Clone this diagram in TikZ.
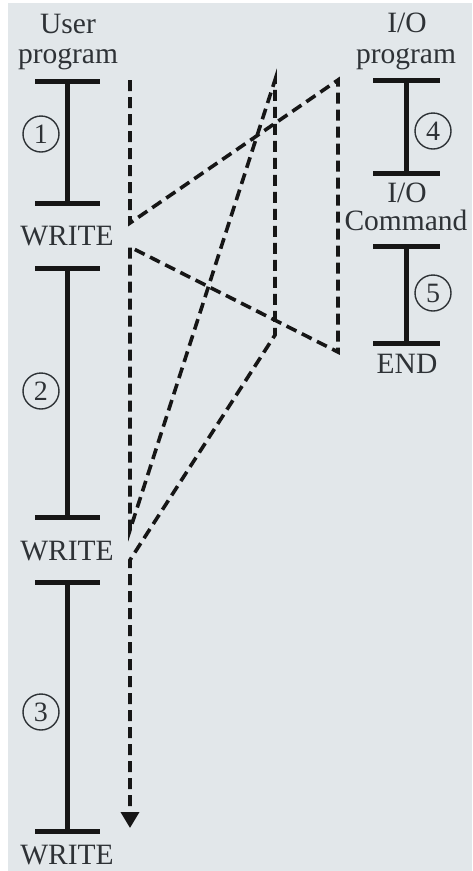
\documentclass[tikz,border=0pt]{standalone}
\usepackage{fontspec}
\setmainfont{Liberation Serif}
\usetikzlibrary{arrows.meta}
\definecolor{panel}{RGB}{226,231,234}
\definecolor{ink}{RGB}{22,22,22}
\definecolor{textink}{RGB}{46,50,54}
\tikzset{
  lbl/.style={anchor=base, inner sep=0pt, text=textink, font=\fontsize{29.5}{32}\selectfont},
  bar/.style={draw=ink, line width=5pt},
  num/.style={circle, draw=textink, line width=1.4pt, minimum size=36pt, inner sep=0pt,
              text=textink, font=\fontsize{28}{28}\selectfont},
  flow/.style={draw=ink, line width=3.6pt, dash pattern=on 11pt off 6pt, line join=miter},
}
\begin{document}
\begin{tikzpicture}[x=1pt, y=-1pt]
  % page and panel
  \useasboundingbox (0,0) rectangle (472,871);
  \fill[white] (0,0) rectangle (472,871);
  \fill[panel] (8,3) rectangle (472,871);

  % user program column
  \node[lbl] (user) at (68,33) {User};
  \node[lbl] (uprog) at (68,63) {program};
  \draw[bar] (35,81) -- (100,81) (67,81) -- (67,203) (35,203) -- (100,203);
  \node[num] (n1) at (41,134) {1};
  \node[lbl] (w1) at (67,245) {WRITE};
  \draw[bar] (35,268) -- (100,268) (67,268) -- (67,517) (35,517) -- (100,517);
  \node[num] (n2) at (41,391) {2};
  \node[lbl] (w2) at (67,560) {WRITE};
  \draw[bar] (35,582) -- (100,582) (67,582) -- (67,831) (35,831) -- (100,831);
  \node[num] (n3) at (41,712) {3};
  \node[lbl] (w3) at (67,864) {WRITE};

  % I/O program column
  \node[lbl] (io) at (407,32) {I/O};
  \node[lbl] (ioprog) at (406,63) {program};
  \draw[bar] (373,80) -- (440,80) (406,80) -- (406,173) (373,173) -- (440,173);
  \node[num] (n4) at (433,131) {4};
  \node[lbl] (io2) at (407,202) {I/O};
  \node[lbl] (cmd) at (406,230) {Command};
  \draw[bar] (373,246) -- (440,246) (406,246) -- (406,343) (373,343) -- (440,343);
  \node[num] (n5) at (433,293) {5};
  \node[lbl] (endl) at (407,373) {END};

  % control flow path
  \coordinate (s)  at (130,80);
  \coordinate (a1) at (130,223);
  \coordinate (b1) at (338,80);
  \coordinate (b2) at (338,352);
  \coordinate (a2) at (130,247);
  \coordinate (a3) at (130,530);
  \coordinate (c1) at (275,80);
  \coordinate (c2) at (275,335);
  \coordinate (a4) at (130,560);
  \coordinate (e)  at (130,828);
  \draw[flow, -{Triangle[length=16pt, width=18pt]}]
    (s) -- (a1) -- (b1) -- (b2) -- (a2) -- (a3) -- (c1) -- (c2) -- (a4) -- (e);
\end{tikzpicture}
\end{document}
